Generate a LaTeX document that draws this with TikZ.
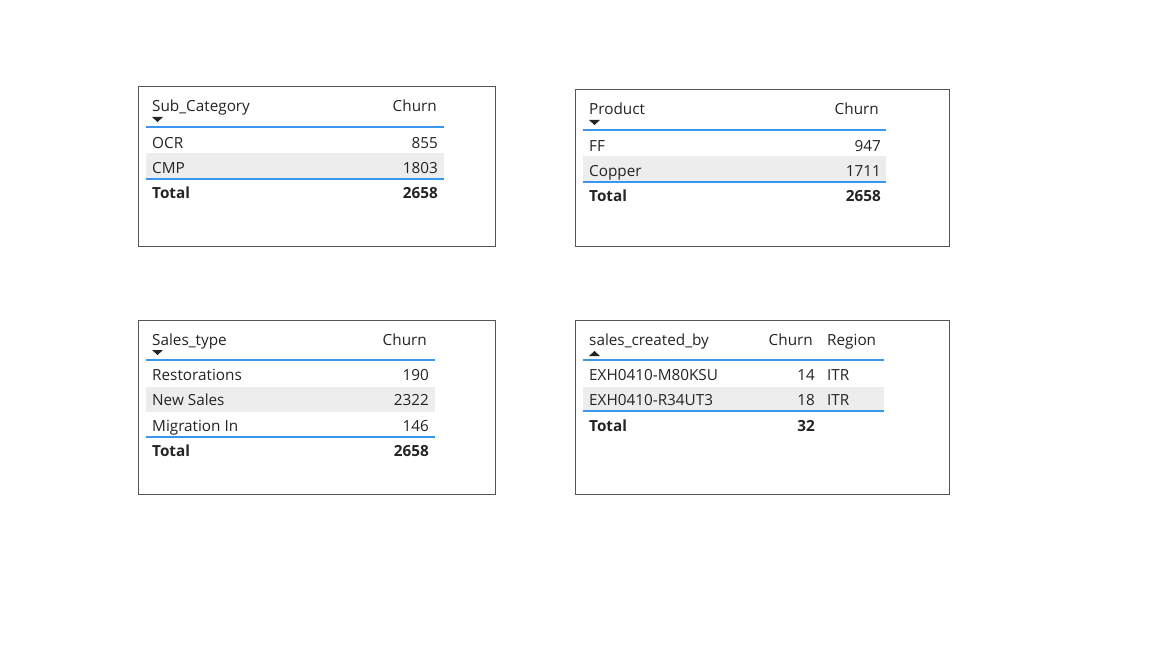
\documentclass[tikz,border=0pt]{standalone}
\usepackage{fontspec}
\setmainfont{Open Sans}
\usetikzlibrary{positioning}
\definecolor{txt}{HTML}{252423}
\definecolor{rule}{HTML}{3A96EC}
\definecolor{rowgray}{HTML}{EDEDED}
\definecolor{frame}{HTML}{555555}
\tikzstyle{panel} = [draw=frame, line width=1pt]
\tikzstyle{cell} = [inner sep=0pt, text=txt, font=\fontsize{15.3}{17}\selectfont]
\tikzstyle{lcell} = [cell, anchor=base west]
\tikzstyle{rcell} = [cell, anchor=base east]
\tikzstyle{tot} = [font=\fontsize{15.3}{17}\selectfont\bfseries]
\tikzstyle{hline} = [draw=rule, line width=1.2pt]
\tikzstyle{stripe} = [fill=rowgray]
\tikzstyle{sorttip} = [fill=txt]
\begin{document}
\begin{tikzpicture}[x=1pt,y=-1pt]
\useasboundingbox (0,0) rectangle (1165,655);
\fill[white] (0,0) rectangle (1165,655);

% Sub_Category
\draw [panel] (138,87) rectangle (495,247);
\fill [stripe] (146,153) rectangle (444,179);
\node (sc) [lcell] at (152,112) {Sub\_Category};
\node (scchurn) [rcell] at (437,112) {Churn};
\fill [sorttip] (152,117) -- (163,117) -- (157.5,122) -- cycle;
\draw [hline] (146,127) -- (444,127);
\node (ocr) [lcell] at (152,149) {OCR};
\node (ocrv) [rcell] at (438,149) {855};
\node (cmp) [lcell] at (152,174) {CMP};
\node (cmpv) [rcell] at (438,174) {1803};
\draw [hline] (146,179) -- (444,179);
\node (sctot) [lcell,tot] at (152,199) {Total};
\node (sctotv) [rcell,tot] at (438,199) {2658};

% Product
\draw [panel] (575,90) rectangle (949,247);
\fill [stripe] (583,156) rectangle (886,182);
\node (prod) [lcell] at (589,115) {Product};
\node (prodchurn) [rcell] at (879,115) {Churn};
\fill [sorttip] (589,120) -- (600,120) -- (594.5,125) -- cycle;
\draw [hline] (583,130) -- (886,130);
\node (ff) [lcell] at (589,152) {FF};
\node (ffv) [rcell] at (881,152) {947};
\node (cu) [lcell] at (589,177) {Copper};
\node (cuv) [rcell] at (881,177) {1711};
\draw [hline] (583,182) -- (886,182);
\node (prtot) [lcell,tot] at (589,202) {Total};
\node (prtotv) [rcell,tot] at (881,202) {2658};

% Sales_type
\draw [panel] (138,320) rectangle (495,494);
\fill [stripe] (146,387) rectangle (435,412);
\node (st) [lcell] at (152,345) {Sales\_type};
\node (stchurn) [rcell] at (427,345) {Churn};
\fill [sorttip] (152,350) -- (163,350) -- (157.5,355) -- cycle;
\draw [hline] (146,360) -- (435,360);
\node (rest) [lcell] at (152,380) {Restorations};
\node (restv) [rcell] at (429,380) {190};
\node (new) [lcell] at (152,405) {New Sales};
\node (newv) [rcell] at (429,405) {2322};
\node (mig) [lcell] at (152,431) {Migration In};
\node (migv) [rcell] at (429,431) {146};
\draw [hline] (146,437) -- (435,437);
\node (sttot) [lcell,tot] at (152,456) {Total};
\node (sttotv) [rcell,tot] at (429,456) {2658};

% sales_created_by
\draw [panel] (575,320) rectangle (949,494);
\fill [stripe] (583,387) rectangle (884,411);
\node (scb) [lcell] at (589,345) {sales\_created\_by};
\node (scbchurn) [rcell] at (813,345) {Churn};
\node (scbreg) [lcell] at (827,345) {Region};
\fill [sorttip] (589,356) -- (600,356) -- (594.5,351) -- cycle;
\draw [hline] (583,360) -- (884,360);
\node (e1) [lcell] at (589,380) {EXH0410-M80KSU};
\node (e1v) [rcell] at (815,380) {14};
\node (e1r) [lcell] at (827,380) {ITR};
\node (e2) [lcell] at (589,405) {EXH0410-R34UT3};
\node (e2v) [rcell] at (815,405) {18};
\node (e2r) [lcell] at (827,405) {ITR};
\draw [hline] (583,411) -- (884,411);
\node (scbtot) [lcell,tot] at (589,431) {Total};
\node (scbtotv) [rcell,tot] at (815,431) {32};
\end{tikzpicture}
\end{document}
